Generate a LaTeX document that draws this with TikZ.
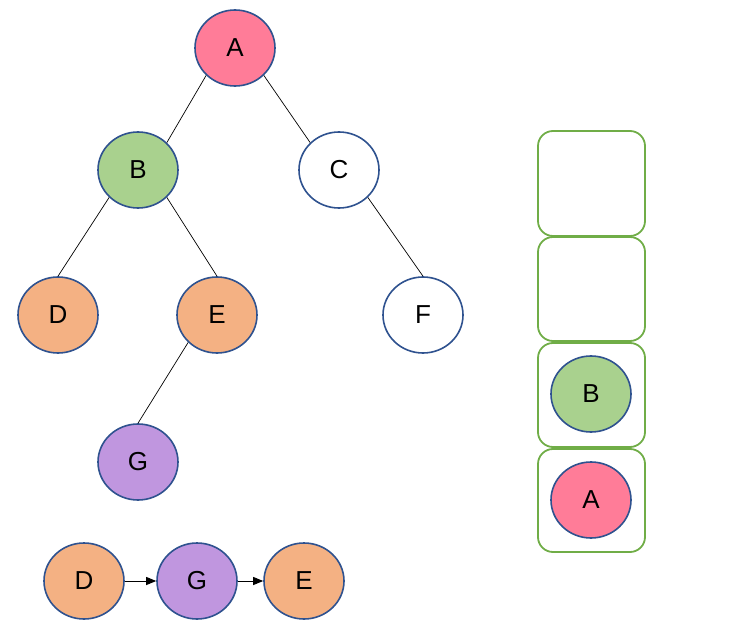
\documentclass[tikz,border=0pt]{standalone}
\usepackage{fontspec}
\setmainfont{Liberation Sans}
\usetikzlibrary{shapes.geometric,arrows.meta}
\definecolor{cpink}{HTML}{FF7C98}
\definecolor{cgreen}{HTML}{A9D18E}
\definecolor{corange}{HTML}{F4B183}
\definecolor{cpurple}{HTML}{C096DF}
\definecolor{cborder}{HTML}{2F528F}
\definecolor{cbox}{HTML}{70AD47}
\tikzset{
  tnode/.style={ellipse, draw=cborder, line width=1.6pt, minimum width=80pt, minimum height=76pt, inner sep=0pt, font=\fontsize{26pt}{26pt}\selectfont},
  edge/.style={line width=0.7pt, black},
  arr/.style={line width=0.9pt, black, -{Triangle[length=10pt,width=8pt]}},
  stackbox/.style={draw=cbox, line width=1.8pt, rounded corners=15pt}
}
\begin{document}
\begin{tikzpicture}[x=1pt,y=-1pt]
\useasboundingbox (0,0) rectangle (740,629);
% tree
\node[tnode, fill=cpink] (A) at (235,48) {A};
\node[tnode, fill=cgreen] (B) at (138,170) {B};
\node[tnode, fill=white] (C) at (339,170) {C};
\node[tnode, fill=corange] (D) at (58,315) {D};
\node[tnode, fill=corange] (E) at (217,315) {E};
\node[tnode, fill=white] (F) at (423,315) {F};
\node[tnode, fill=cpurple] (G) at (138,462) {G};
\draw[edge] (A.south west) -- (B.north east);
\draw[edge] (A.south east) -- (C.north west);
\draw[edge] (B.south west) -- (D.north);
\draw[edge] (B.south east) -- (E.north);
\draw[edge] (C.south east) -- (F.north);
\draw[edge] (E.south west) -- (G.north);
% sequence
\node[tnode, fill=corange] (D2) at (84,581) {D};
\node[tnode, fill=cpurple] (G2) at (197,581) {G};
\node[tnode, fill=corange] (E2) at (304,581) {E};
\draw[arr] (D2.east) -- (G2.west);
\draw[arr] (G2.east) -- (E2.west);
% stack
\draw[stackbox] (538,131) rectangle (645,236);
\draw[stackbox] (538,237) rectangle (645,341);
\draw[stackbox] (538,343) rectangle (645,447);
\draw[stackbox] (538,449) rectangle (645,552);
\node[tnode, fill=cgreen] (SB) at (591,394) {B};
\node[tnode, fill=cpink] (SA) at (591,500) {A};
\end{tikzpicture}
\end{document}
